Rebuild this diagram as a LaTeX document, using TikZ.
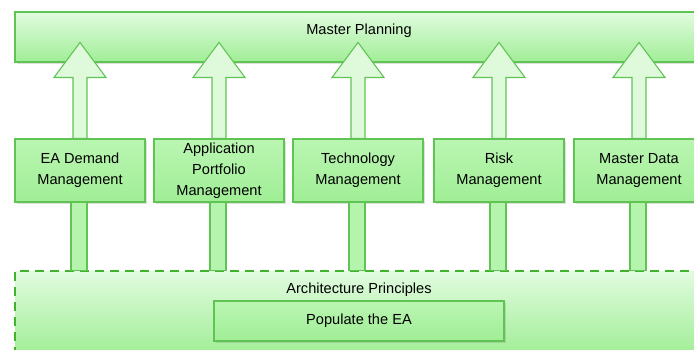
\documentclass[tikz,border=0pt]{standalone}
\usepackage{fontspec}
\setmainfont{Liberation Sans}
\usetikzlibrary{calc, shadows, positioning}
\definecolor{LeafPale}{RGB}{226, 251, 224}
\definecolor{LeafMid}{RGB}{186, 246, 178}
\definecolor{LeafDeep}{RGB}{160, 238, 150}
\definecolor{LeafLine}{RGB}{96, 196, 84}
\definecolor{LeafDash}{RGB}{64, 178, 44}

\begin{document}
\begin{tikzpicture}[x=1pt, y=-1pt,
        font=\fontsize{14.6}{21}\selectfont,
        panel/.style={rectangle, draw=LeafLine, line width=1.1pt,
            top color=LeafPale, bottom color=LeafDeep, inner sep=0pt,
            drop shadow={opacity=0.25, shadow xshift=1.5pt, shadow yshift=-1.5pt}},
        taskbox/.style={rectangle, draw=LeafLine, line width=1.1pt,
            top color=LeafMid, bottom color=LeafDeep, inner sep=0pt, align=center,
            minimum width=130pt, minimum height=63pt,
            drop shadow={opacity=0.25, shadow xshift=1.5pt, shadow yshift=-1.5pt}},
        basebox/.style={rectangle, draw=LeafDash, line width=1.8pt,
            dash pattern=on 9pt off 6pt, top color=LeafPale, bottom color=LeafDeep,
            inner sep=0pt},
        uparrow/.style={draw=LeafLine, line width=1.1pt, fill=LeafPale!90!LeafMid,
            line join=miter},
        stem/.style={draw=LeafLine, line width=1.1pt, fill=LeafMid!80!LeafDeep}]
    \useasboundingbox (0,0) rectangle (694,349);
    \clip (0,0) rectangle (694,349);

    % Top band
    \node[panel, minimum width=680pt, minimum height=50pt,
          label={[xshift=4pt, yshift=6pt]center:Master Planning}]
          (master) at (355,37) {};

    % Management functions
    \node[taskbox] (dem)  at (80,170.5)  {EA Demand\\Management};
    \node[taskbox] (app)  at (219,170.5) {Application\\Portfolio\\Management};
    \node[taskbox] (tech) at (358,170.5) {Technology\\Management};
    \node[taskbox] (risk) at (499,170.5) {Risk\\Management};
    \node[taskbox] (mdm)  at (639,170.5) {Master Data\\Management};

    % Dashed base with the inner box
    \node[basebox, minimum width=685pt, minimum height=84pt,
          label={[anchor=center, xshift=1.5pt, yshift=-20pt]north:Architecture Principles}]
          (arch) at (357.5,313) {};
    \node[taskbox, minimum width=290pt, minimum height=40pt]
          (pop) at (359,321) {Populate the EA};

    % Block arrows up into Master Planning, stems down to the base
    \foreach \n in {dem, app, tech, risk, mdm} {
        \filldraw[uparrow] ($(\n.north)+(-7,0)$) -- ++(0,-61) -- ++(-19,0)
            -- ($(\n.north)+(0,-96)$) -- ($(\n.north)+(26,-61)$) -- ++(-19,0)
            -- ($(\n.north)+(7,0)$) -- cycle;
        \filldraw[stem] ($(\n.south)+(-9,0)$) rectangle ($(\n.south |- arch.north)+(7,0)$);
    }
\end{tikzpicture}
\end{document}
